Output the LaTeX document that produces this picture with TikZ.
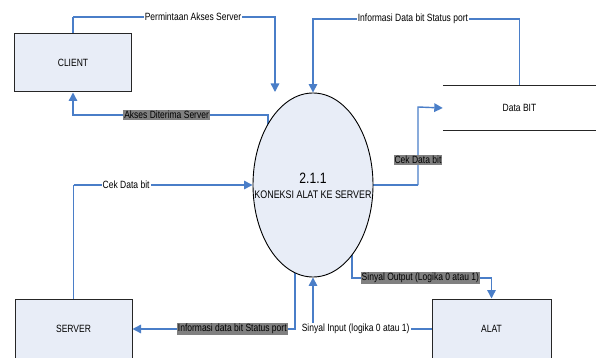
\documentclass[tikz,border=0pt]{standalone}
\usepackage{fontspec}
\setmainfont[FakeStretch=0.81]{Liberation Sans}
\usetikzlibrary{arrows.meta,shapes.geometric,calc}
\pgfdeclarelayer{background}
\pgfsetlayers{background,main}
\definecolor{boxfill}{RGB}{232,237,247}
\definecolor{flowblue}{RGB}{74,126,200}
\definecolor{tag}{RGB}{128,128,128}
\newcommand{\lblfont}{\fontsize{10.5}{12}\selectfont}

\begin{document}
\begin{tikzpicture}[x=1pt,y=-1pt,
  entity/.style={draw=black!85,line width=1pt,fill=boxfill,minimum width=117pt,
    minimum height=60pt,inner sep=0pt,font=\lblfont},
  flowline/.style={color=flowblue,draw=flowblue,line width=1.4pt},
  flow/.style={flowline,-{Triangle[length=8.5pt,width=8.5pt]}},
  tagdark/.style={fill=tag,inner sep=1pt,font=\lblfont},
  taglight/.style={fill=white,inner sep=1pt,font=\lblfont}]
\useasboundingbox (0,0) rectangle (596,358);

% external entities
\node[entity,minimum height=58pt] (client) at (73,63) {CLIENT};
\node[entity] (server) at (73.5,329) {SERVER};
\node[entity,minimum width=119pt] (alat) at (491.5,329) {ALAT};

% process
\node[draw,ellipse,fill=boxfill,line width=0.9pt,minimum width=120pt,
  minimum height=184pt,inner sep=0pt] (proc) at (313,185) {};
\node[align=center,inner sep=0pt] (proctitle) at ($(proc.center)+(0,1)$)
  {\fontsize{15}{18}\selectfont 2.1.1\\[3pt]\fontsize{11}{13}\selectfont KONEKSI ALAT KE SERVER};

% data store
\node[minimum width=153pt,minimum height=44pt,inner sep=0pt,font=\lblfont] (databit) at (519.5,108) {Data BIT};
\draw[line width=1.2pt,black!85] (databit.north west) -- (databit.north east)
  (databit.south west) -- (databit.south east);

% bend points
\coordinate (permTop) at (275,17);
\coordinate (permEnd) at (275,92);
\coordinate (infoTop) at (313,19);
\coordinate (aksesTop) at (268,115);
\coordinate (cekBend) at (418,107);
\coordinate (outBend) at (352,278);
\coordinate (permCorner) at (client.north |- permTop);
\coordinate (infoCorner) at (databit.north |- infoTop);
\coordinate (aksesCorner) at (client.south |- aksesTop);
\coordinate (cekCorner) at (proc.east -| cekBend);
\coordinate (cekLeft) at (server.north |- proc.west);
\coordinate (statusCorner) at ([xshift=-18pt]proc.center |- server.east);
\coordinate (outCorner) at (alat.north |- outBend);
\coordinate (inCorner) at (proc.south |- alat.west);

% data flows
\begin{pgfonlayer}{background}
\draw[flow] ([xshift=-45pt]proc.center) -- (aksesTop) -- (aksesCorner) -- (client.south);
\draw[flow] ([xshift=-18pt]proc.center) -- (statusCorner) -- (server.east);
\draw[flow] ([xshift=39pt]proc.center) -- (outBend) -- (outCorner) -- (alat.north);
% flows leaving an entity: first leg, then the leg with the arrow
\draw[flowline] (permCorner) -- (client.north);
\draw[flow] (permCorner) -- (permTop) -- (permEnd);
\draw[flowline] (infoCorner) -- (databit.north);
\draw[flow] (infoCorner) -- (infoTop) -- (proc.north);
\draw[flowline] (cekCorner) -- (proc.center);
\draw[flow] (cekCorner) -- (cekBend) -- (databit.west);
\draw[flowline] (cekLeft) -- (server.north);
\draw[flow] (cekLeft) -- (proc.west);
\draw[flowline] (inCorner) -- (alat.west);
\draw[flow] (inCorner) -- (proc.south);
\end{pgfonlayer}

% flow labels
\node[taglight] (lblPerm) at ($(permCorner)!0.594!(permTop)$) {Permintaan Akses Server};
\node[taglight] (lblInfoTop) at ($(infoCorner)!0.516!(infoTop)$) {Informasi Data bit Status port};
\node[tagdark] (lblAkses) at ($(aksesTop)!0.52!(aksesCorner)$) {Akses Diterima Server};
\node[tagdark] (lblCekR) at ($(cekCorner)!0.32!(cekBend)$) {Cek Data bit};
\node[taglight] (lblCekL) at ($(cekLeft)!0.294!(proc.west)$) {Cek Data bit};
\node[tagdark] (lblInfoBot) at ($(statusCorner)!0.386!(server.east)$) {Informasi data bit Status port};
\node[tagdark] (lblOut) at ($(outBend)!0.49!(outCorner)$) {Sinyal Output (Logika 0 atau 1)};
\node[taglight] (lblIn) at ($(alat.west)!0.64!(inCorner)$) {Sinyal Input (logika 0 atau 1)};
\end{tikzpicture}
\end{document}
